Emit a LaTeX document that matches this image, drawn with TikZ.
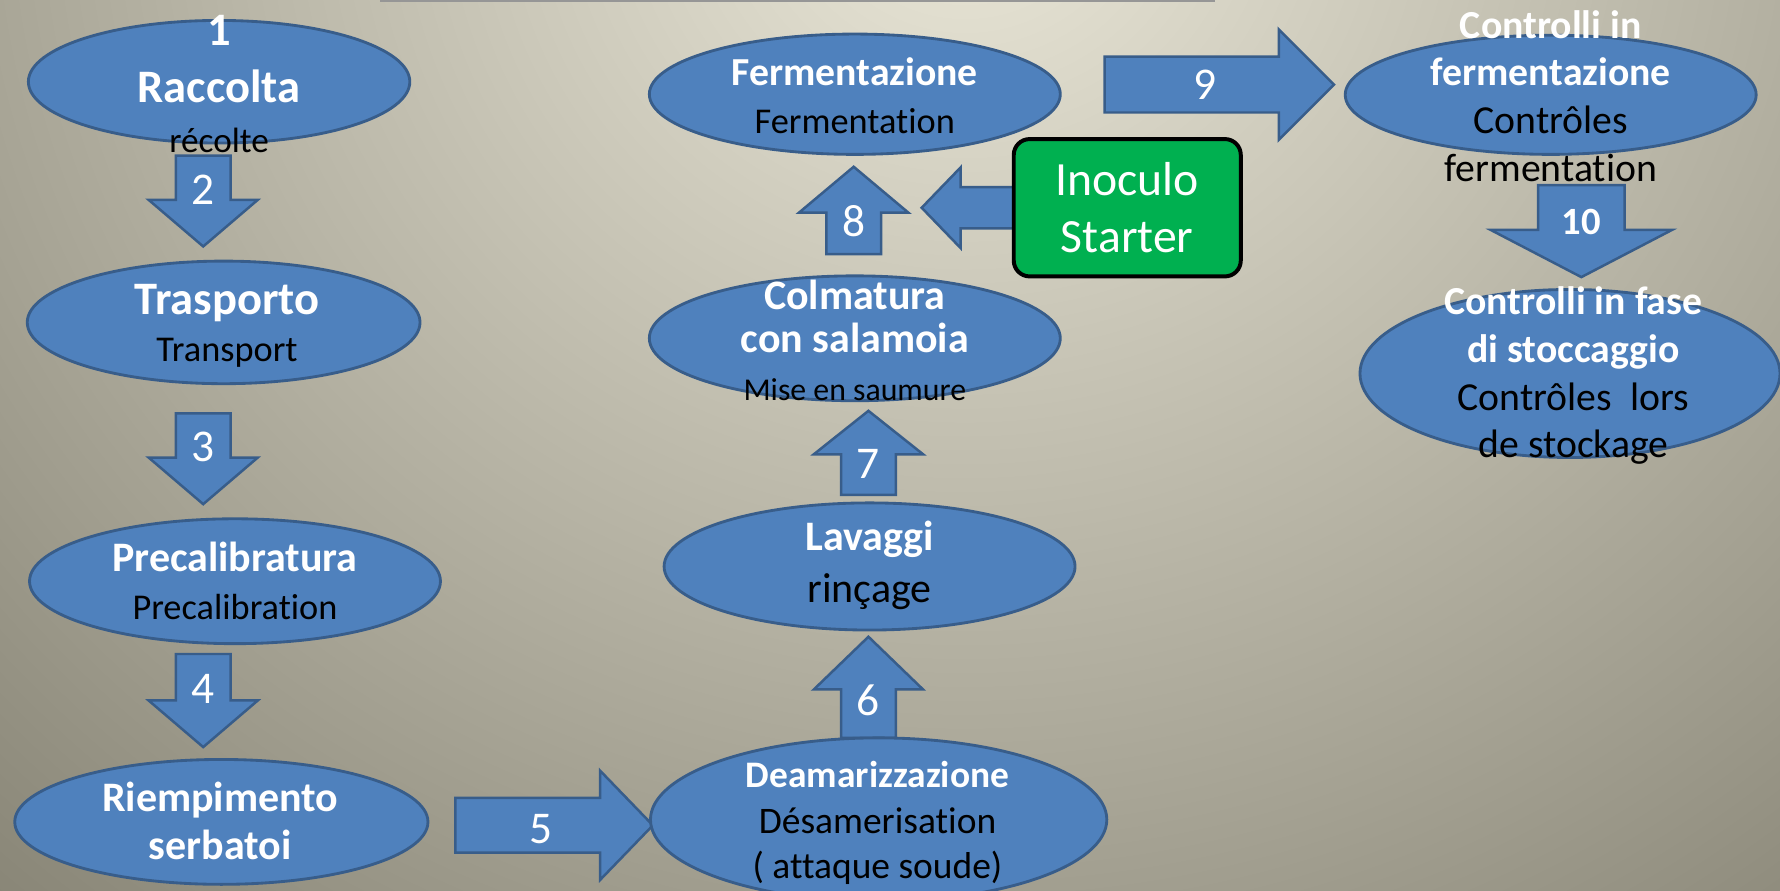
\documentclass[tikz,border=0pt]{standalone}
\usepackage{fontspec}
\setmainfont{Carlito}[Ligatures=NoCommon]
\usepackage{xcolor}
\usepackage{tikz}
\usetikzlibrary{shapes.geometric,shapes.arrows}

\definecolor{ellfill}{RGB}{79,129,189}
\definecolor{ellline}{RGB}{56,93,138}
\definecolor{startgreen}{RGB}{0,176,80}
\definecolor{bglight}{RGB}{234,231,216}
\definecolor{bgdark}{RGB}{132,129,114}
\definecolor{topline}{RGB}{150,150,150}

\newcommand{\headtxt}[2]{{\fontsize{#1}{42}\selectfont\bfseries\color{white}#2}}
\newcommand{\transtxt}[2]{{\fontsize{#1}{42}\selectfont\color{black}#2}}

\begin{document}
\begin{tikzpicture}[x=1pt,y=-1pt]

\tikzstyle{stepell} = [ellipse, draw=ellline, fill=ellfill, line width=2.5pt, inner sep=0pt]
\tikzstyle{steptxt} = [align=center, inner sep=0pt, font=\fontsize{32}{42}\selectfont]
\tikzstyle{blockarrow} = [single arrow, anchor=tail, draw=ellline, fill=ellfill, line width=2.2pt, inner sep=0pt, align=center, text=white, font=\fontsize{40}{42}\selectfont, single arrow head extend=24pt]
\tikzstyle{downarrow} = [blockarrow, shape border rotate=270, text width=46pt, text height=26pt, text depth=0pt]
\tikzstyle{uparrow} = [blockarrow, shape border rotate=90, text width=46pt, text height=26pt, text depth=0pt]
\tikzstyle{rightarrow} = [blockarrow, shape border rotate=0]
\tikzstyle{startbox} = [draw=black, fill=startgreen, line width=3.5pt, rounded corners=14pt, minimum width=200pt, minimum height=121pt, align=center, text=white, font=\fontsize{42}{42}\selectfont]

\useasboundingbox (0,0) rectangle (1568,784);

% background
\begin{scope}
\clip (0,0) rectangle (1568,784);
\shade[inner color=bglight, outer color=bgdark] (850,-100) ellipse (1350pt and 1250pt);
\end{scope}
\draw[topline, line width=1.8pt] (335,0.9) -- (1070,0.9);

% block arrows (placed by their tails)
\node[downarrow, minimum height=80pt, minimum width=94pt, single arrow tip angle=99] (a2) at (179,136) {2};
\node[downarrow, minimum height=80pt, minimum width=94pt, single arrow tip angle=99] (a3) at (179,363) {3};
\node[downarrow, minimum height=82pt, minimum width=94pt, single arrow tip angle=99] (a4) at (179,575) {4};
\node[rightarrow, text height=39pt, text depth=7pt, minimum height=174pt, minimum width=95pt, single arrow tip angle=92] (a5) at (400,727) {5};
\node[uparrow, minimum height=89pt, minimum width=96pt, single arrow tip angle=92] (a6) at (765,651) {6};
\node[uparrow, minimum height=74pt, minimum width=94pt, single arrow tip angle=103] (a7) at (765,437) {7};
\node[uparrow, minimum height=77pt, minimum width=95pt, single arrow tip angle=100] (a8) at (752,225) {8};
\node[rightarrow, text height=37pt, text depth=10pt, minimum height=202pt, minimum width=94pt, single arrow tip angle=90] (a9) at (972,74.5) {9};
\node[downarrow, text width=74pt, font=\fontsize{34}{42}\selectfont\bfseries, minimum height=81pt, minimum width=158pt, single arrow head extend=42pt, single arrow tip angle=125] (a10) at (1393,162) {10};
\node[blockarrow, shape border rotate=180, text height=17pt, text depth=17pt, minimum height=87pt, minimum width=69pt, single arrow head extend=17.5pt, single arrow tip angle=92] (ain) at (900,183) {};

% steps
\node[stepell, minimum width=336pt, minimum height=108pt] (rac) at (193,72) {};
\node[stepell, minimum width=346pt, minimum height=108pt] (tra) at (197,284) {};
\node[stepell, minimum width=362pt, minimum height=110pt] (pre) at (207,512) {};
\node[stepell, minimum width=364pt, minimum height=110pt] (rie) at (195,724) {};
\node[stepell, minimum width=402pt, minimum height=144pt] (dea) at (774,722) {};
\node[stepell, minimum width=362pt, minimum height=112pt] (lav) at (766,499) {};
\node[stepell, minimum width=362pt, minimum height=110pt] (col) at (753,298) {};
\node[stepell, minimum width=362pt, minimum height=106pt] (fer) at (753,83) {};
\node[stepell, minimum width=362pt, minimum height=105pt] (cif) at (1366,83.5) {};
\node[stepell, minimum width=370pt, minimum height=148pt] (cfs) at (1383,329) {};

\node[startbox] (ino) at (993,183) {Inoculo\\[8pt]Starter};

% texts
\node[steptxt] (rac-t) at (193,74) {\headtxt{41}{1}\\[9pt]\headtxt{41}{Raccolta}\\[2pt]\transtxt{31}{récolte}};
\node[steptxt] (tra-t) at (200,287) {\headtxt{41}{Trasporto}\\\transtxt{32}{Transport}};
\node[steptxt] (pre-t) at (207,512) {\headtxt{37}{Precalibratura}\\\transtxt{32}{Precalibration}};
\node[steptxt] (rie-t) at (194,723) {\headtxt{37}{Riempimento}\\\headtxt{37}{serbatoi}};
\node[steptxt] (dea-t) at (773,725) {\headtxt{33}{Deamarizzazione}\\[-2pt]\transtxt{33}{Désamerisation}\\[-2pt]\transtxt{33}{( attaque soude)}};
\node[steptxt] (lav-t) at (766,498) {\headtxt{37}{Lavaggi}\\[3pt]\transtxt{37}{rinçage}};
\node[steptxt] (col-t) at (753,300) {\headtxt{37}{Colmatura}\\[-4pt]\headtxt{37}{con salamoia}\\\transtxt{28}{Mise en saumure}};
\node[steptxt] (fer-t) at (753,84) {\headtxt{35}{Fermentazione}\\\transtxt{32}{Fermentation}};
\node[steptxt] (cif-t) at (1366,84.5) {\headtxt{35}{Controlli in}\\\headtxt{35}{fermentazione}\\\transtxt{35}{Contrôles}\\\transtxt{35}{fermentation}};
\node[steptxt] (cfs-t) at (1386,331) {\headtxt{35}{Controlli in fase}\\\headtxt{35}{di stoccaggio}\\\transtxt{35}{Contrôles~ lors}\\\transtxt{35}{de stockage}};

\end{tikzpicture}
\end{document}
